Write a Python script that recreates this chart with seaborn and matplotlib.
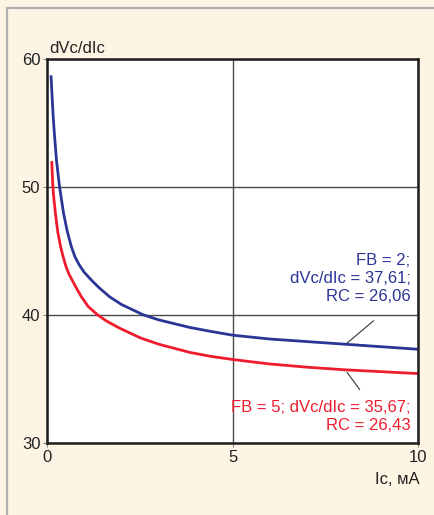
import matplotlib
matplotlib.use("Agg")
import matplotlib.pyplot as plt
import seaborn as sns
import pandas as pd
from matplotlib.lines import Line2D

# ---- data ----
ic_fb2 = [0.10, 0.13, 0.16, 0.20, 0.25, 0.33, 0.44, 0.54, 0.65, 0.75, 0.86, 1.00, 1.19,
          1.40, 1.68, 2.00, 2.58, 3.00, 3.85, 4.40, 5.0, 6.0, 7.0, 8.0, 9.0, 10.0]
dv_fb2 = [58.7, 57.0, 55.4, 53.8, 52.0, 50.0, 47.9, 46.5, 45.3, 44.5, 43.9, 43.3, 42.7,
          42.1, 41.4, 40.8, 40.0, 39.6, 39.0, 38.7, 38.4, 38.1, 37.9, 37.7, 37.5, 37.3]

ic_fb5 = [0.12, 0.15, 0.18, 0.22, 0.28, 0.36, 0.43, 0.50, 0.58, 0.67, 0.80, 0.92, 1.10,
          1.35, 1.60, 1.95, 2.50, 3.00, 3.85, 4.40, 5.0, 6.0, 7.0, 8.0, 9.0, 10.0]
dv_fb5 = [52.0, 50.0, 49.0, 47.9, 46.5, 45.3, 44.5, 43.8, 43.2, 42.7, 42.0, 41.4, 40.65,
          40.0, 39.5, 38.95, 38.2, 37.7, 37.05, 36.75, 36.5, 36.15, 35.9, 35.7, 35.55, 35.4]

x_ticks = [0, 5, 10]
y_ticks = [30, 40, 50, 60]

label_fb2 = "FB = 2;\ndVc/dIc = 37,61;\nRC = 26,06"
label_fb5 = "FB = 5; dVc/dIc = 35,67;\nRC = 26,43"
y_title = "dVc/dIc"
x_title = "Ic, мА"

df2 = pd.DataFrame({"Ic": ic_fb2, "dV": dv_fb2})
df5 = pd.DataFrame({"Ic": ic_fb5, "dV": dv_fb5})

sns.set_theme(style="white")
plt.rcParams["font.family"] = ["Liberation Sans Narrow", "Liberation Sans", "DejaVu Sans"]

BLUE = "#2b3596"
RED = "#ee1c2e"
BG = "#fdf4e3"
FS = 12

fig = plt.figure(figsize=(4.35, 5.15), dpi=100)
fig.patch.set_facecolor(BG)
ax = fig.add_axes([47.3 / 435, 1 - 442.7 / 515, (418 - 47.3) / 435, (442.7 - 58.7) / 515])
ax.set_facecolor("white")

sns.lineplot(data=df2, x="Ic", y="dV", ax=ax, color=BLUE, lw=2.0, sort=False,
             solid_joinstyle="round", solid_capstyle="butt")
sns.lineplot(data=df5, x="Ic", y="dV", ax=ax, color=RED, lw=2.0, sort=False,
             solid_joinstyle="round", solid_capstyle="butt")

ax.set_xlim(0, 10)
ax.set_ylim(30, 60)
ax.set_xticks(x_ticks)
ax.set_yticks(y_ticks)
ax.set_xlabel("")
ax.set_ylabel("")
ax.grid(True, color="#4a4a4a", lw=1.0)
ax.set_axisbelow(True)
for s in ax.spines.values():
    s.set_color("#1e1e1e")
    s.set_linewidth(1.8)
ax.tick_params(axis="both", which="both", length=3, width=0.8, color="#888888",
               labelsize=FS, labelcolor="#222222", pad=2, direction="out",
               left=True, bottom=True)

ax.text(0.004, 1.008, y_title, transform=ax.transAxes, ha="left", va="bottom",
        fontsize=FS, color="#222222")
ax.text(1.005, -0.097, x_title, transform=ax.transAxes, ha="right", va="center",
        fontsize=FS, color="#222222")

ax.text(9.8, 42.79, label_fb2, ha="right", va="center", multialignment="right",
        fontsize=FS, color=BLUE, linespacing=1.25)
ax.text(9.8, 32.06, label_fb5, ha="right", va="center", multialignment="right",
        fontsize=FS, color=RED, linespacing=1.25)

ax.annotate("", xy=(8.03, 37.64), xytext=(8.86, 39.67),
            arrowprops=dict(arrowstyle="-", color="#333333", lw=0.8))
ax.annotate("", xy=(8.04, 35.68), xytext=(8.47, 33.98),
            arrowprops=dict(arrowstyle="-", color="#333333", lw=0.8))

# decorative frame lines of the figure
fig.add_artist(Line2D([7 / 435, 1.0], [1 - 8 / 515, 1 - 8 / 515], color="#b0b0b0", lw=1.6,
                      transform=fig.transFigure))
fig.add_artist(Line2D([7 / 435, 7 / 435], [0, 1 - 8 / 515], color="#b0b0b0", lw=1.6,
                      transform=fig.transFigure))

fig.savefig("out.png", dpi=100, facecolor=BG)
